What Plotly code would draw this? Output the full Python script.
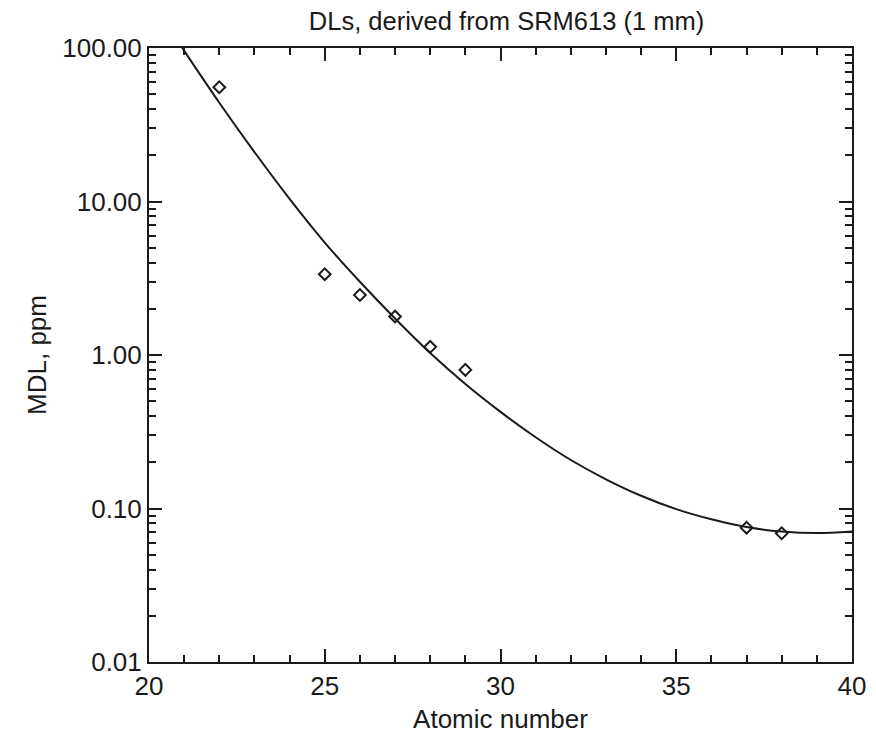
import plotly.graph_objects as go

# Measured detection limits (diamonds)
atomic_number = [22, 25, 26, 27, 28, 29, 37, 38]
mdl_ppm = [55.5, 3.36, 2.46, 1.78, 1.13, 0.80, 0.075, 0.069]

# Fitted curve
fit_x = [20.9, 21, 22, 23, 24, 25, 26, 27, 28, 29, 30, 31, 32, 33, 34, 35, 36, 37, 38, 39, 40]
fit_y = [104, 96, 44, 21.0, 10.4, 5.4, 3.0, 1.73, 1.03, 0.647, 0.426, 0.291, 0.207, 0.155,
         0.121, 0.0990, 0.0850, 0.0757, 0.0708, 0.0692, 0.0708]

y_major = [0.01, 0.1, 1, 10, 100]
y_labels = ["0.01", "0.10", "1.00", "10.00", "100.00"]
x_major = [20, 25, 30, 35, 40]
x_minor = [21, 22, 23, 24, 26, 27, 28, 29, 31, 32, 33, 34, 36, 37, 38, 39]
y_minor = [m * d for d in [0.01, 0.1, 1, 10] for m in range(2, 10)]

FONT = "Liberation Sans, Arial, Helvetica, sans-serif"
INK = "#1a1a1a"
FS = 26
W, H = 868, 726

fig = go.Figure()
fig.add_trace(go.Scatter(
    x=fit_x, y=fit_y, mode="lines",
    line=dict(color=INK, width=2, shape="spline", smoothing=1.0),
    showlegend=False, hoverinfo="skip"))
fig.add_trace(go.Scatter(
    x=atomic_number, y=mdl_ppm, mode="markers",
    marker=dict(symbol="diamond-open", size=9, color=INK, line=dict(width=2, color=INK)),
    showlegend=False))

fig.update_layout(
    width=W, height=H,
    margin=dict(l=141, r=24, t=40, b=72, autoexpand=False),
    paper_bgcolor="white", plot_bgcolor="white",
    font=dict(family=FONT, size=FS, color=INK),
    title=dict(text="DLs, derived from SRM613 (1 mm)", x=498.5 / W, xanchor="center",
               y=1 - 4 / H, yanchor="top", font=dict(size=25.5, color=INK)),
)
fig.update_xaxes(
    range=[20, 40], tickvals=x_major, ticktext=[str(v) for v in x_major],
    ticks="inside", ticklen=13, tickwidth=2, tickcolor=INK,
    minor=dict(tickvals=x_minor, ticks="inside", ticklen=7, tickwidth=2, tickcolor=INK),
    showline=True, linewidth=2, linecolor=INK, mirror="ticks",
    showgrid=False, zeroline=False, automargin=False,
    title=dict(text="Atomic number", standoff=13, font=dict(size=FS)),
    tickfont=dict(size=FS),
)
fig.update_yaxes(
    type="log", range=[-2, 2], tickvals=y_major, ticktext=y_labels,
    ticks="inside", ticklen=13, tickwidth=2, tickcolor=INK,
    minor=dict(tickvals=y_minor, ticks="inside", ticklen=7, tickwidth=2, tickcolor=INK),
    showline=True, linewidth=2, linecolor=INK, mirror="ticks",
    showgrid=False, zeroline=False, automargin=False,
    title=dict(text="MDL, ppm", standoff=8, font=dict(size=FS)),
    tickfont=dict(size=FS),
)

fig.write_html("out.html")
